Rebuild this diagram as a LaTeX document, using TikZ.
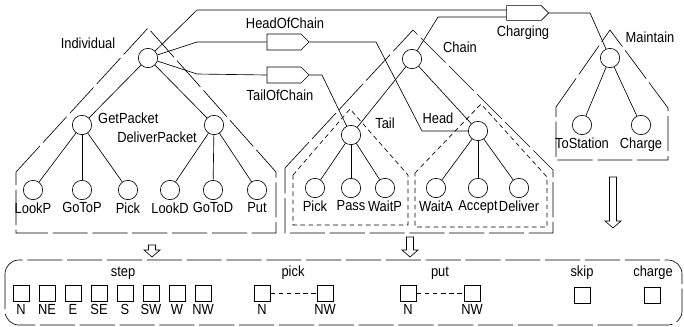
\documentclass[tikz,border=0pt]{standalone}
\usepackage{fontspec}
\setmainfont{Liberation Sans}[FakeStretch=0.88]
\usetikzlibrary{shapes.symbols}

\tikzset{
  state/.style={circle, draw, minimum size=0.58cm, inner sep=0pt},
  leaf/.style={state, label={[label distance=-1.5pt]below:#1}},
  gate/.style={signal, signal to=east, draw, minimum width=1.26cm, minimum height=0.48cm, inner sep=0pt},
  envelope/.style={dash pattern=on 30pt off 4pt},
  subenv/.style={dash pattern=on 4pt off 3pt},
  act/.style={draw, minimum size=0.48cm, inner sep=0pt},
  actl/.style={act, label={[label distance=-1pt]below:#1}},
}
\newcommand{\hollowarr}[3]{%
  \draw (#1-3.5,#2) -- (#1-3.5,#3-7) -- (#1-8,#3-7) -- (#1,#3) -- (#1+8,#3-7) -- (#1+3.5,#3-7) -- (#1+3.5,#2) -- cycle;}

\begin{document}
\begin{tikzpicture}[x=0.03cm, y=-0.03cm, line width=0.55pt, font=\fontsize{12.5}{14}\selectfont]
    \useasboundingbox (0,0) rectangle (684,326);

    \node[state] (ind) at (148,58) {};
    \node[state] (getp) at (82,125) {};
    \node[state] (delp) at (214,125) {};
    \node[leaf=LookP] (lookp) at (33,190) {};
    \node[leaf=GoToP] (gotop) at (82,190) {};
    \node[leaf=Pick] (pickp) at (128,190) {};
    \node[leaf=LookD] (lookd) at (170,190) {};
    \node[leaf=GoToD] (gotod) at (213,190) {};
    \node[leaf=Put] (put) at (257,190) {};
    \draw (ind) -- (getp);
    \draw (ind) -- (delp);
    \foreach \c in {lookp,gotop,pickp} \draw (getp) -- (\c);
    \foreach \c in {lookd,gotod,put} \draw (delp) -- (\c);

    \node[state] (chain) at (412,59) {};
    \node[state] (tail) at (351,135) {};
    \node[state] (head) at (478,131) {};
    \node[leaf=Pick] (pickc) at (315,188) {};
    \node[leaf=Pass] (pass) at (351,188) {};
    \node[leaf=WaitP] (waitp) at (385,188) {};
    \node[leaf=WaitA] (waita) at (436,188) {};
    \node[leaf=Accept] (accept) at (478,188) {};
    \node[leaf=Deliver] (deliver) at (519,188) {};
    \draw (chain) -- (tail);
    \draw (chain) -- (head);
    \foreach \c in {pickc,pass,waitp} \draw (tail) -- (\c);
    \foreach \c in {waita,accept,deliver} \draw (head) -- (\c);

    \node[state] (maint) at (610,58) {};
    \node[leaf=ToStation] (tost) at (582,125) {};
    \node[leaf=Charge] (charge) at (641,125) {};
    \draw (maint) -- (tost);
    \draw (maint) -- (charge);

    \node[gate] (hoc) at (284,42) {};
    \node[gate] (toc) at (284,75) {};
    \node[gate, minimum height=0.44cm] (chg) at (524,13) {};
    \coordinate (i1) at (197,10);
    \coordinate (i2) at (197,42);
    \coordinate (i3) at (197,74);
    \coordinate (c1) at (438,17);
    \draw (ind) -- (i1) -- (i1 -| chg.west);
    \draw (ind) -- (i2) -- (hoc.west);
    \draw (ind) -- (i3) -- (toc.west);
    \draw (chain) -- (c1) -- (c1 -| chg.west);
    \draw (hoc.east) -- (376,42) -- (422,131) -- (head);
    \draw (toc.east) -- (322,75) -- (tail);
    \draw (chg.east) -- (590,13) -- (maint);

    \node (indlbl) at (88,43) {Individual};
    \node[anchor=west] (getlbl) at (94,118) {GetPacket};
    \node[anchor=east] (dellbl) at (201,137) {DeliverPacket};
    \node (hoclbl) at (285,23) {HeadOfChain};
    \node (toclbl) at (280,95) {TailOfChain};
    \node (chglbl) at (523,33) {Charging};
    \node (chainlbl) at (460,47) {Chain};
    \node (taillbl) at (385,123) {Tail};
    \node (headlbl) at (438,118) {Head};
    \node (maintlbl) at (650,37) {Maintain};

    \draw[envelope] (16,172) -- (148,28) -- (276,172) -- (276,233) -- (16,233) -- cycle;
    \draw[envelope] (285,168) -- (413,30) -- (553,170) -- (553,233) -- (285,233) -- cycle;
    \draw[envelope] (556,107) -- (610,30) -- (668,108) -- (668,160) -- (556,160) -- cycle;
    \draw[subenv] (293,175) -- (350,109) -- (408,175) -- (408,225) -- (293,225) -- cycle;
    \draw[subenv] (415,173) -- (481,104) -- (547,177) -- (547,227) -- (415,227) -- cycle;

    \hollowarr{152}{245}{257}
    \hollowarr{410}{237}{257}
    \hollowarr{613}{177}{228}

    \draw[envelope, rounded corners=12pt] (5,260) rectangle (682,325);
    \node (steplbl) at (123,273) {step};
    \node (picklbl) at (293,273) {pick};
    \node (putlbl) at (440,273) {put};
    \node (skiplbl) at (582,273) {skip};
    \node (chargelbl) at (653,273) {charge};
    \foreach \x/\d [count=\i] in {21/N,47/NE,73/E,99/SE,125/S,151/SW,177/W,203/NW}
        \node[actl=\d] (st\i) at (\x,293) {};
    \node[actl=N] (pkn) at (262,293) {};
    \node[actl=NW] (pknw) at (325,293) {};
    \node[actl=N] (ptn) at (408,293) {};
    \node[actl=NW] (ptnw) at (472,293) {};
    \draw[subenv] (pkn) -- (pknw);
    \draw[subenv] (ptn) -- (ptnw);
    \node[act] (skp) at (582,295) {};
    \node[act] (chgsq) at (652,295) {};
\end{tikzpicture}
\end{document}
